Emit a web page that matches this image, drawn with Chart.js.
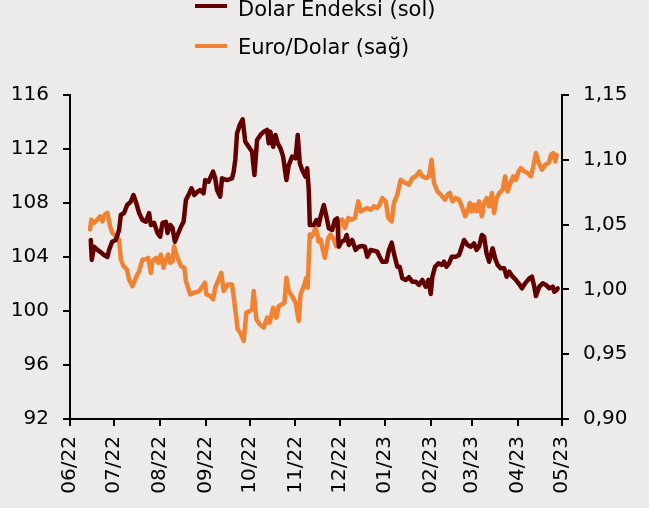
<!DOCTYPE html>
<html>
<head>
<meta charset="utf-8">
<script src="https://cdn.jsdelivr.net/npm/chart.js@4.4.0/dist/chart.umd.min.js"></script>
<style>
  body { margin: 0; background: #edebea; font-family: "DejaVu Sans", sans-serif; }
  #wrap { position: relative; width: 649px; height: 508px; overflow: hidden; }
  .sw { position: absolute; left: 195px; width: 32px; height: 4px; }
  .leg { position: absolute; left: 238px; font-size: 21px; line-height: 21px; color: #000; white-space: nowrap; }
</style>
</head>
<body>
<div id="wrap">
  <canvas id="chart" width="649" height="508"></canvas>
  <div class="sw" style="top:4px;background:#620000"></div>
  <div class="leg" style="top:-1px">Dolar Endeksi (sol)</div>
  <div class="sw" style="top:44px;background:#f08232"></div>
  <div class="leg" style="top:37px">Euro/Dolar (sağ)</div>
</div>
<script>
// days counted from 2022-06-01
const startDate = '2022-06-01';
const monthDates = ['2022-06-01','2022-07-01','2022-08-01','2022-09-01','2022-10-01','2022-11-01',
  '2022-12-01','2023-01-01','2023-02-01','2023-03-01','2023-04-01','2023-05-01'];
const monthLabels = ['06/22','07/22','08/22','09/22','10/22','11/22','12/22','01/23','02/23','03/23','04/23','05/23'];
const leftTicks = [92, 96, 100, 104, 108, 112, 116];
const rightTicks = [0.90, 0.95, 1.00, 1.05, 1.10, 1.15];

// Dolar Endeksi (sol)
const dxyDays = [
  14.1,14.8,16.3,18.6,20.7,23.1,25.4,26.5,28.6,31.1,
  33.3,34.5,36.7,38.8,41.3,43.1,44.7,46.9,49.2,51.5,
  53.7,54.9,57.1,59.4,61.2,62.8,65.1,66.2,68.0,69.6,
  71.2,73.0,75.3,77.1,78.7,81.0,82.5,84.4,86.6,88.4,
  90.7,91.8,94.1,97.1,98.6,99.8,102.0,103.2,106.6,110.0,
  111.1,112.2,113.4,115.2,117.2,117.9,119.0,121.3,123.6,125.2,
  127.0,129.3,131.5,133.8,134.9,136.0,137.9,139.5,141.0,142.9,
  144.7,146.9,148.5,150.8,153.1,154.6,156.0,157.6,159.9,161.0,
  162.1,162.8,165.5,167.3,168.9,170.1,172.3,174.1,175.7,178.0,
  179.8,181.4,182.5,184.3,186.6,187.8,189.3,191.6,193.9,196.1,
  198.0,200.2,201.8,204.1,206.3,208.6,210.2,212.0,214.8,216.5,
  218.4,219.9,222.2,223.8,225.6,227.9,230.1,232.4,234.7,236.9,
  239.2,241.5,243.3,244.9,246.0,247.8,250.1,252.4,253.9,255.6,
  257.3,259.2,261.9,264.1,266.0,267.5,269.9,272.1,274.3,276.0,
  277.7,279.6,281.1,282.8,284.5,286.9,288.6,290.3,292.5,294.8,
  296.4,298.2,300.5,302.7,304.5,306.8,309.0,311.8,313.6,315.2,
  316.3,318.6,320.9,323.1,325.4,327.7,328.8,330.4,331.1
];
const dxyValues = [
  105.26,103.78,104.76,104.52,104.37,104.15,104.0,104.52,105.13,105.26,
  106.0,107.11,107.26,107.85,108.1,108.59,108.1,107.26,106.74,106.61,
  107.26,106.37,106.52,105.78,105.5,106.52,106.61,105.78,106.37,106.15,
  105.13,105.63,106.24,106.61,108.22,108.72,109.09,108.59,108.84,108.96,
  108.72,109.7,109.58,110.32,109.83,108.96,108.47,109.83,109.7,109.83,
  110.32,111.19,113.16,113.78,114.2,113.53,112.54,112.17,111.8,110.07,
  112.67,113.04,113.28,113.41,112.42,113.28,112.17,113.04,112.42,112.05,
  111.43,109.7,110.81,111.43,111.31,113.04,110.94,110.44,109.95,110.57,
  108.96,106.37,106.37,106.74,106.37,106.99,107.85,106.99,106.13,106.0,
  106.74,106.87,104.76,105.13,105.26,105.63,104.89,105.26,104.52,104.76,
  104.81,104.76,104.02,104.52,104.47,104.39,104.02,103.65,103.65,104.52,
  105.06,104.27,103.28,103.28,102.42,102.3,102.5,102.17,102.17,101.93,
  102.3,101.8,102.3,101.26,102.54,103.28,103.53,103.41,103.65,103.28,
  103.53,104.02,104.02,104.15,104.76,105.26,104.89,104.76,105.01,104.52,
  104.76,105.63,105.5,104.27,103.65,104.64,103.9,103.41,103.16,103.16,
  102.54,102.91,102.54,102.3,102.05,101.68,102.05,102.42,102.54,101.8,
  101.11,101.8,102.05,101.93,101.68,101.8,101.43,101.56,101.68
];

// Euro/Dolar (sağ)
const eurDays = [
  13.6,14.5,16.3,18.6,20.4,22.0,23.6,25.4,27.2,28.8,
  31.1,33.3,34.5,36.3,38.6,40.1,42.4,44.7,46.9,49.2,
  51.5,53.1,54.9,56.0,58.3,59.9,61.7,63.5,65.1,66.7,
  68.0,69.6,70.7,72.6,75.3,77.6,78.7,81.6,84.4,87.8,
  90.0,91.6,92.5,95.2,97.1,98.6,100.9,102.7,104.3,107.0,
  110.0,111.1,112.2,113.8,115.6,117.9,119.7,122.0,123.6,124.7,
  126.5,128.8,131.5,133.8,135.6,137.9,140.1,141.7,144.0,145.6,
  146.9,148.5,150.8,153.1,155.3,156.5,158.7,160.5,161.4,162.1,
  162.8,164.4,166.7,168.2,168.7,170.1,171.6,173.0,175.3,176.9,
  179.1,180.7,182.1,183.0,184.8,186.6,188.9,191.1,193.4,195.7,
  197.3,199.5,201.8,204.1,206.3,208.6,210.2,212.0,214.3,216.1,
  218.4,219.9,222.2,224.5,226.0,227.9,230.1,232.4,234.7,237.4,
  239.2,242.0,243.7,245.4,247.1,249.4,251.7,254.6,256.3,257.8,
  259.7,261.9,264.1,266.0,268.2,269.9,271.4,272.8,274.3,276.0,
  277.7,279.6,281.1,282.8,284.5,286.4,287.9,289.6,291.4,293.7,
  295.4,297.1,298.6,300.9,302.7,304.5,306.1,308.4,310.7,312.9,
  314.5,316.3,318.2,320.4,322.6,325.0,326.5,328.1,329.4,330.4
];
const eurValues = [
  1.0462,1.0538,1.0513,1.0538,1.0564,1.0525,1.0577,1.059,1.0487,1.0436,
  1.041,1.0385,1.0231,1.0179,1.0154,1.0077,1.0025,1.009,1.0141,1.0231,
  1.0231,1.0244,1.0128,1.0218,1.0244,1.0205,1.0269,1.0167,1.0231,1.0269,
  1.0205,1.0218,1.0333,1.0256,1.0179,1.0167,1.0064,0.9962,0.9975,0.9987,
  1.0025,1.0052,0.9962,0.9948,0.9923,1.0013,1.0077,1.0128,0.9987,1.0038,
  1.0038,0.9948,0.9846,0.9692,0.9667,0.9602,0.9821,0.9833,0.9846,0.9987,
  0.9769,0.9731,0.9705,0.9782,0.9744,0.9859,0.9782,0.9872,0.9885,0.9898,
  1.009,0.9987,0.9948,0.9898,0.9757,0.9962,1.0025,1.009,1.0013,1.0244,
  1.0423,1.041,1.0475,1.041,1.0369,1.0385,1.0308,1.0244,1.0398,1.0423,
  1.0385,1.0333,1.0436,1.0525,1.0538,1.0475,1.0552,1.0538,1.0552,1.0679,
  1.0602,1.0615,1.0628,1.0615,1.0641,1.0628,1.0654,1.0705,1.0679,1.0552,
  1.0525,1.0667,1.0731,1.0846,1.0833,1.0821,1.0808,1.0859,1.0872,1.091,
  1.0872,1.0859,1.0872,1.1,1.0821,1.0756,1.0731,1.0692,1.0731,1.0744,
  1.0679,1.0705,1.0692,1.0641,1.0564,1.0602,1.0667,1.0602,1.0654,1.0602,
  1.0679,1.0564,1.0667,1.0705,1.0641,1.0744,1.059,1.0705,1.0744,1.0769,
  1.0872,1.0756,1.0808,1.0872,1.0846,1.091,1.0936,1.091,1.0898,1.0872,
  1.0948,1.1052,1.0975,1.0923,1.0962,1.0975,1.1038,1.1052,1.0987,1.1038
];

const DARK = '#620000';
const ORANGE = '#f08232';
const FONT = { family: '"DejaVu Sans", sans-serif', size: 20 };

const dayOf = d => (Date.parse(d) - Date.parse(startDate)) / 864e5;
const monthDays = monthDates.map(dayOf);

// axis lines + short outward tick marks, no grid inside the plot
const axisStyle = {
  grid: { display: true, drawOnChartArea: false, drawTicks: true, tickLength: 7, color: '#000', lineWidth: 2 },
  border: { display: true, color: '#000', width: 2 }
};

const ctx = document.getElementById('chart').getContext('2d');
new Chart(ctx, {
  type: 'line',
  data: {
    datasets: [
      {
        label: 'Dolar Endeksi (sol)',
        data: dxyDays.map((d, i) => ({ x: d, y: dxyValues[i] })),
        borderColor: DARK,
        borderWidth: 4.5,
        borderJoinStyle: 'round',
        borderCapStyle: 'round',
        pointRadius: 0,
        tension: 0,
        yAxisID: 'y'
      },
      {
        label: 'Euro/Dolar (sağ)',
        data: eurDays.map((d, i) => ({ x: d, y: eurValues[i] })),
        borderColor: ORANGE,
        borderWidth: 4.5,
        borderJoinStyle: 'round',
        borderCapStyle: 'round',
        pointRadius: 0,
        tension: 0,
        yAxisID: 'y1'
      }
    ]
  },
  options: {
    responsive: false,
    animation: false,
    layout: { padding: { top: 95 } },
    plugins: {
      legend: { display: false },
      tooltip: { enabled: false }
    },
    scales: {
      x: {
        type: 'linear',
        min: monthDays[0],
        max: monthDays[monthDays.length - 1],
        afterBuildTicks: s => { s.ticks = monthDays.map(v => ({ value: v })); },
        afterFit: s => { s.height = 89; },
        ticks: {
          autoSkip: false, minRotation: 90, maxRotation: 90, padding: 10,
          color: '#000', font: FONT,
          callback: (v, i) => monthLabels[i]
        },
        ...axisStyle
      },
      y: {
        position: 'left',
        min: 92, max: 116,
        afterBuildTicks: s => { s.ticks = leftTicks.map(v => ({ value: v })); },
        afterFit: s => { s.width = 70; },
        ticks: { padding: 14, color: '#000', font: FONT },
        ...axisStyle
      },
      y1: {
        position: 'right',
        min: 0.9, max: 1.15,
        afterBuildTicks: s => { s.ticks = rightTicks.map(v => ({ value: v })); },
        afterFit: s => { s.width = 87; },
        ticks: {
          padding: 14, color: '#000', font: FONT,
          callback: v => v.toFixed(2).replace('.', ',')
        },
        ...axisStyle
      }
    }
  }
});
</script>
</body>
</html>
